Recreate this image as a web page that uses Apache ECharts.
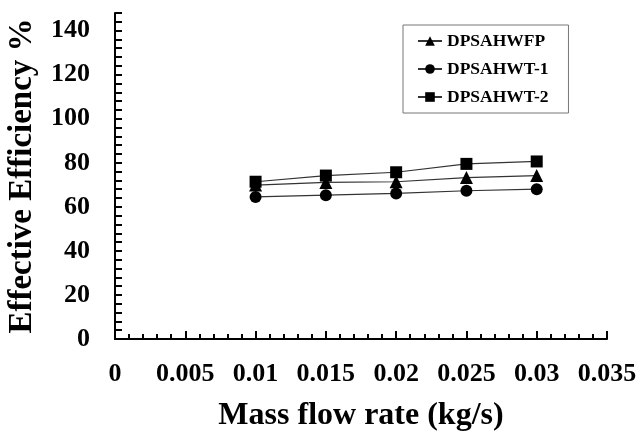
<!DOCTYPE html>
<html><head><meta charset="utf-8">
<script src="https://cdn.jsdelivr.net/npm/echarts@6/dist/echarts.min.js"></script>
<style>html,body{margin:0;padding:0;background:#fff}#c{width:638px;height:434px}</style>
</head><body><div id="c"></div>
<script>
var massFlow = [0.01, 0.015, 0.02, 0.025, 0.03];
var wfp = [69.9, 71.1, 71.4, 73.3, 74.2];
var wt1 = [64.5, 65.3, 66.1, 67.3, 68.0];
var wt2 = [71.4, 74.2, 75.7, 79.5, 80.6];
var seriesNames = ['DPSAHWFP', 'DPSAHWT-1', 'DPSAHWT-2'];
var xTitle = 'Mass flow rate (kg/s)';
var yTitle = 'Effective Efficiency %';

var font = '"Liberation Serif","Times New Roman",serif';
function pairs(ys){ return massFlow.map(function(x,i){ return [x, ys[i]]; }); }
var chart = echarts.init(document.getElementById('c'));
function mk(name, data, symbol, size){
  return {name:name, type:'line', data:pairs(data), symbol:symbol, symbolSize:size,
    itemStyle:{color:'#000'}, lineStyle:{color:'#333', width:1.2}, animation:false};
}
chart.setOption({
  animation:false,
  grid:{left:115, top:13, right:31, bottom:95, containLabel:false, outerBoundsMode:'none'},
  legend:{orient:'vertical', left:403, top:25,
    padding:[7,20,7,14], itemGap:10, itemWidth:24, itemHeight:12,
    borderColor:'#777', borderWidth:1,
    textStyle:{fontFamily:font, fontWeight:'bold', fontSize:17.5, color:'#000'},
    data:seriesNames},
  xAxis:{type:'value', min:0, max:0.035, interval:0.005,
    name:xTitle, nameLocation:'middle', nameGap:61,
    nameTextStyle:{fontFamily:font, fontWeight:'bold', fontSize:32, color:'#000'},
    axisLine:{lineStyle:{color:'#000', width:2}},
    axisTick:{inside:true, length:8, lineStyle:{color:'#000', width:2}},
    minorTick:{show:true, splitNumber:5, length:5, lineStyle:{color:'#000', width:2}},
    splitLine:{show:false},
    axisLabel:{margin:22, fontFamily:font, fontWeight:'bold', fontSize:26, color:'#000',
      formatter:function(v){ return String(+v.toFixed(3)); }}},
  yAxis:{type:'value', min:0, max:148, interval:4,
    name:yTitle, nameLocation:'middle', nameGap:76, nameRotate:90,
    nameTextStyle:{fontFamily:font, fontWeight:'bold', fontSize:33, color:'#000'},
    axisLine:{lineStyle:{color:'#000', width:2}},
    axisTick:{inside:true, length:7, lineStyle:{color:'#000', width:2}},
    splitLine:{show:false},
    axisLabel:{interval:0, margin:25, fontFamily:font, fontWeight:'bold', fontSize:26, color:'#000',
      formatter:function(v){ return (v % 20 === 0) ? String(v) : ''; }}},
  series:[mk(seriesNames[0], wfp, 'triangle', 13), mk(seriesNames[1], wt1, 'circle', 12), mk(seriesNames[2], wt2, 'rect', 12)]
});
</script></body></html>
